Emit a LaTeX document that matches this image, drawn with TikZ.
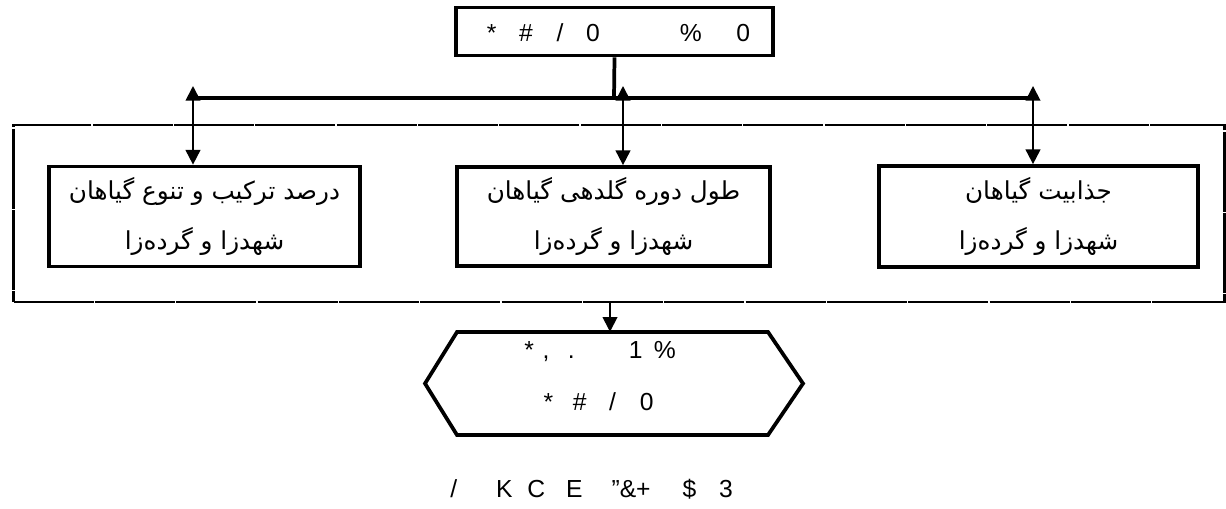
\documentclass[tikz,border=0pt]{standalone}
\usepackage{fontspec}
\setmainfont{Liberation Sans}
\newfontfamily\arabicfont[Script=Arabic]{DejaVu Sans}
\TeXXeTstate=1
\usetikzlibrary{arrows.meta}
\tikzset{
  box/.style={draw, line width=2.8pt, inner sep=0pt},
  lat/.style={font=\fontsize{18.5}{20}\selectfont, inner sep=0pt},
  fa/.style={font=\arabicfont\fontsize{18.5}{38}\selectfont, align=center, inner sep=0pt},
  link/.style={line width=1.4pt},
  dbl/.style={link, {Triangle[width=11pt,length=11pt]}-{Triangle[width=11pt,length=11pt]}},
  sgl/.style={link, -{Triangle[width=11pt,length=11pt]}},
  frame/.style={draw, line width=2.2pt, dash pattern=on 60pt off 1pt},
}
\begin{document}
\begin{tikzpicture}[x=0.75pt,y=-0.75pt]
\useasboundingbox (0,0) rectangle (1226,508);
% top box
\node[box, minimum width=317*0.75pt, minimum height=48*0.75pt] (top) at (614.5,31.5) {};
\node[lat] (toptext) at (618.5,33) {*\hspace{0.92em}\#\hspace{0.96em}/\hspace{0.92em}0\hspace{3.25em}\%\hspace{1.4em}0};
% outer frame
\node[frame, minimum width=1211*0.75pt, minimum height=177*0.75pt, inner sep=0pt] (outer) at (619,213.5) {};
% three boxes
\node[box, minimum width=311*0.75pt, minimum height=100*0.75pt] (b1) at (204.5,216.5) {};
\node[fa] at (b1) {\beginR درصد ترکیب و تنوع گیاهان\endR\\\beginR شهدزا و گرده‌زا\endR};
\node[box, minimum width=313*0.75pt, minimum height=99*0.75pt] (b2) at (613.5,216.5) {};
\node[fa] at (b2) {\beginR طول دوره گلدهی گیاهان\endR\\\beginR شهدزا و گرده‌زا\endR};
\node[box, minimum width=319*0.75pt, minimum height=101*0.75pt] (b3) at (1038.5,216.5) {};
\node[fa] at (b3) {\beginR جذابیت گیاهان\endR\\\beginR شهدزا و گرده‌زا\endR};
% bus
\coordinate (j) at (614,98);
\coordinate (l) at (193,98);
\coordinate (r) at (1033,98);
\draw[line width=2.8pt] (top.south) -- (j);
\draw[line width=2.8pt] (l) -- (r);
\coordinate (t1) at (193,86);
\coordinate (t2) at (623,86);
\coordinate (t3) at (1033,86);
\draw[dbl] (t1) -- (t1 |- b1.north);
\draw[dbl] (t2) -- (t2 |- b2.north);
\draw[dbl] (t3) -- (t3 |- b3.north);
% hexagon
\coordinate (h1) at (457,332);
\coordinate (h2) at (768,332);
\coordinate (h3) at (803,383.5);
\coordinate (h4) at (768,435);
\coordinate (h5) at (457,435);
\coordinate (h6) at (425,383.5);
\draw[line width=2.8pt, line join=miter] (h1) -- (h2) -- (h3) -- (h4) -- (h5) -- (h6) -- cycle;
\node[inner sep=0pt, minimum width=311*0.75pt, minimum height=103*0.75pt] (hex) at (612.5,383.5) {};
\node[lat] (hx1) at (600,352) {*\hspace{0.35em},\hspace{0.75em}.\hspace{2.2em}1\hspace{0.45em}\%};
\node[lat] (hx2) at (598.5,402) {*\hspace{0.8em}\#\hspace{0.92em}/\hspace{0.96em}0};
\coordinate (a0) at (610,302);
\draw[sgl] (a0) -- (a0 |- hex.north);
% caption
\node[lat] (cap) at (591.6,489) {/\hspace{1.58em}K\hspace{0.6em}C\hspace{0.85em}E\hspace{1.17em}"\&+\hspace{1.3em}\$\hspace{0.92em}3};
\end{tikzpicture}
\end{document}
